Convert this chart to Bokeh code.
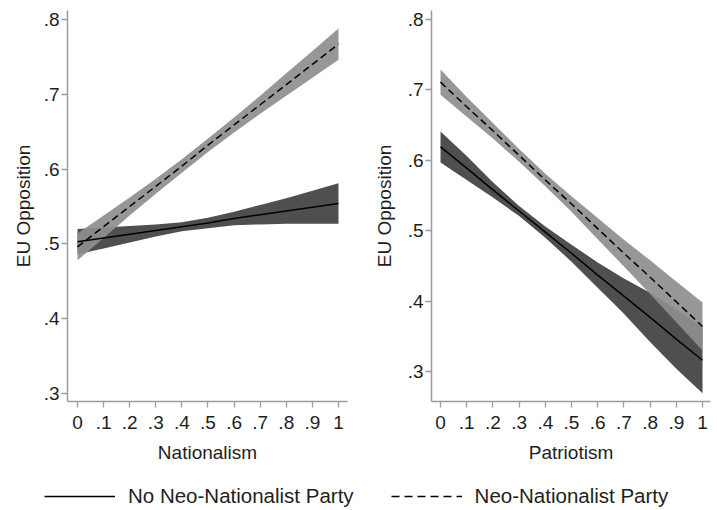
from bokeh.plotting import figure
from bokeh.layouts import column, row
from bokeh.models import FixedTicker, Legend, LegendItem
from bokeh.embed import file_html
from bokeh.resources import INLINE

# ---- data ----
x_vals = [0.0, 0.1, 0.2, 0.3, 0.4, 0.5, 0.6, 0.7, 0.8, 0.9, 1.0]
x_tick_labels = ["0", ".1", ".2", ".3", ".4", ".5", ".6", ".7", ".8", ".9", "1"]
y_ticks = [0.3, 0.4, 0.5, 0.6, 0.7, 0.8]
y_tick_labels = [".3", ".4", ".5", ".6", ".7", ".8"]

# Panel 1: Nationalism
nat_none_fit = [0.503, 0.508, 0.513, 0.518, 0.523, 0.528, 0.534, 0.539, 0.544, 0.549, 0.554]
nat_none_hw = [0.017, 0.014, 0.011, 0.008, 0.006, 0.007, 0.009, 0.013, 0.017, 0.022, 0.027]
nat_neo_fit = [0.496, 0.523, 0.550, 0.577, 0.604, 0.632, 0.659, 0.686, 0.713, 0.740, 0.767]
nat_neo_hw = [0.018, 0.015, 0.012, 0.010, 0.009, 0.009, 0.010, 0.012, 0.015, 0.018, 0.021]

# Panel 2: Patriotism
pat_none_fit = [0.619, 0.589, 0.558, 0.528, 0.498, 0.468, 0.437, 0.407, 0.377, 0.346, 0.316]
pat_none_hw = [0.022, 0.017, 0.011, 0.007, 0.008, 0.012, 0.018, 0.025, 0.035, 0.042, 0.047]
pat_neo_fit = [0.711, 0.676, 0.642, 0.607, 0.572, 0.538, 0.503, 0.468, 0.434, 0.399, 0.364]
pat_neo_hw = [0.018, 0.014, 0.011, 0.009, 0.009, 0.011, 0.015, 0.019, 0.024, 0.029, 0.034]

legend_labels = ["No Neo-Nationalist Party", "Neo-Nationalist Party"]

FONT = "Liberation Sans"
TEXT = "#1e1e1e"
AXIS = "#9c9c9c"
DARK = "#4f4f4f"
LIGHT = "#8e8e8e"


def panel(xlabel, none_fit, none_hw, neo_fit, neo_hw, x_range, y_range,
          frame_w, border_left, border_right, ylab_standoff):
    p = figure(frame_width=frame_w, frame_height=391,
               x_range=x_range, y_range=y_range,
               min_border_left=border_left, min_border_right=border_right,
               min_border_top=10, min_border_bottom=69,
               output_backend="svg", toolbar_location=None)
    p.outline_line_color = None
    p.grid.visible = False
    p.background_fill_color = "white"

    lo1 = [f - h for f, h in zip(none_fit, none_hw)]
    hi1 = [f + h for f, h in zip(none_fit, none_hw)]
    lo2 = [f - h for f, h in zip(neo_fit, neo_hw)]
    hi2 = [f + h for f, h in zip(neo_fit, neo_hw)]

    p.varea(x=x_vals, y1=lo1, y2=hi1, fill_color=DARK, fill_alpha=1.0)
    p.varea(x=x_vals, y1=lo2, y2=hi2, fill_color=LIGHT, fill_alpha=0.92)
    p.line(x_vals, none_fit, line_color="black", line_width=1.5)
    p.line(x_vals, neo_fit, line_color="black", line_width=1.5, line_dash="7 4")

    p.xaxis.ticker = FixedTicker(ticks=x_vals)
    p.xaxis.major_label_overrides = {v: s for v, s in zip(x_vals, x_tick_labels)}
    p.yaxis.ticker = FixedTicker(ticks=y_ticks)
    p.yaxis.major_label_overrides = {v: s for v, s in zip(y_ticks, y_tick_labels)}
    p.xaxis.axis_label = xlabel
    p.yaxis.axis_label = "EU Opposition"

    for ax in (p.xaxis, p.yaxis):
        ax.axis_line_color = AXIS
        ax.axis_line_width = 1.5
        ax.major_tick_line_color = AXIS
        ax.major_tick_line_width = 1.3
        ax.major_tick_out = 6
        ax.major_tick_in = 0
        ax.minor_tick_line_color = None
        ax.major_label_text_font = FONT
        ax.major_label_text_font_size = "19px"
        ax.major_label_text_color = TEXT
        ax.axis_label_text_font = FONT
        ax.axis_label_text_font_size = "19px"
        ax.axis_label_text_font_style = "normal"
        ax.axis_label_text_color = TEXT
    p.xaxis.major_label_standoff = 8
    p.xaxis.axis_label_standoff = 10
    p.yaxis.major_label_standoff = 2
    p.yaxis.axis_label_standoff = ylab_standoff
    return p


p1 = panel("Nationalism", nat_none_fit, nat_none_hw, nat_neo_fit, nat_neo_hw,
           (-0.0383, 1.0345), (0.2893, 0.812), 280, 67, 13, 7)
p2 = panel("Patriotism", pat_none_fit, pat_none_hw, pat_neo_fit, pat_neo_hw,
           (-0.0344, 1.0305), (0.2574, 0.8128), 279, 71, 7, 10)

# ---- legend strip ----
leg = figure(width=717, height=40, x_range=(0, 1), y_range=(0, 1),
             output_backend="svg", toolbar_location=None,
             min_border=0)
leg.outline_line_color = None
leg.axis.visible = False
leg.grid.visible = False
# keys only: their data lie outside the visible range so only the legend glyphs show
r1 = leg.line([5, 6], [5, 6], line_color="black", line_width=1.5)
r2 = leg.line([5, 6], [5, 6], line_color="black", line_width=1.5, line_dash="8 5")
legend = Legend(items=[LegendItem(label=legend_labels[0], renderers=[r1]),
                       LegendItem(label=legend_labels[1], renderers=[r2])],
                orientation="horizontal", location=(44, 2),
                glyph_width=71, glyph_height=24, label_height=24,
                label_standoff=13, spacing=37, padding=0, margin=0,
                border_line_color=None, background_fill_alpha=0,
                label_text_font=FONT, label_text_font_size="20.5px",
                label_text_color=TEXT)
leg.add_layout(legend, "center")

layout = column(row(p1, p2), leg)
open("out.html", "w").write(file_html(layout, INLINE))
